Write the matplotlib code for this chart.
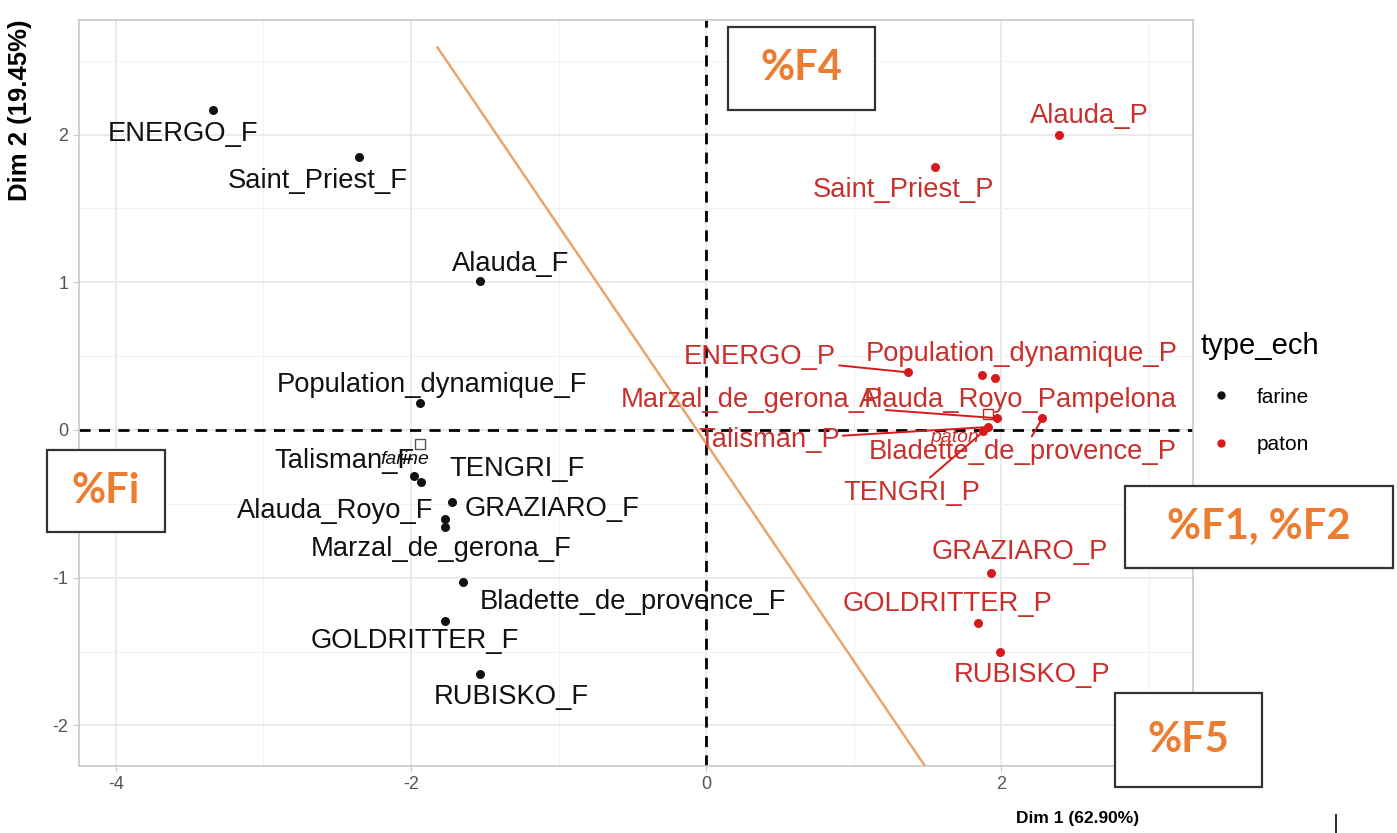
import numpy as np
import matplotlib.pyplot as plt
from matplotlib.lines import Line2D
from matplotlib.patches import Rectangle

plt.rcParams['font.family'] = ['Liberation Sans', 'DejaVu Sans']
plt.rcParams['axes.unicode_minus'] = False

W, H = 1397, 833

# individuals on the first two PCA dimensions
farine_names = ['ENERGO_F', 'Saint_Priest_F', 'Alauda_F', 'Population_dynamique_F',
                'Talisman_F', 'TENGRI_F', 'Alauda_Royo_F', 'GRAZIARO_F',
                'Marzal_de_gerona_F', 'Bladette_de_provence_F', 'GOLDRITTER_F', 'RUBISKO_F']
farine_x = [-3.34, -2.35, -1.53, -1.94, -1.98, -1.93, -1.77, -1.72, -1.77, -1.65, -1.77, -1.53]
farine_y = [2.17, 1.85, 1.01, 0.18, -0.31, -0.35, -0.60, -0.49, -0.66, -1.03, -1.29, -1.65]

paton_names = ['Alauda_P', 'Saint_Priest_P', 'ENERGO_P', 'Population_dynamique_P',
               'Alauda_Royo_Pampelona', 'Marzal_de_gerona_P', 'Bladette_de_provence_P',
               'Talisman_P', 'TENGRI_P', 'GRAZIARO_P', 'GOLDRITTER_P', 'RUBISKO_P']
paton_x = [2.39, 1.55, 1.37, 1.87, 1.96, 1.97, 2.28, 1.91, 1.88, 1.93, 1.84, 1.99]
paton_y = [2.00, 1.78, 0.39, 0.37, 0.35, 0.08, 0.08, 0.02, -0.01, -0.97, -1.31, -1.50]

# hand-drawn separating line
sep_x = [-1.82, 1.48]
sep_y = [2.59, -2.27]

# annotation boxes: text, (left, top, right, bottom) in pixels
boxes = [('%F4', (728, 27, 875, 110)),
         ('%Fi', (47, 450, 165, 532)),
         ('%F1, %F2', (1125, 486, 1393, 568)),
         ('%F5', (1115, 693, 1262, 787))]

# label offsets (pixels), repel-like placement
farine_off = [(-30, -24), (-42, -24), (30, 17), (12, 18), (-69, 15), (96, 13),
              (-110, 8), (100, -7), (-4, -22), (170, -20), (-30, -20), (31, -23)]
paton_off = [(31, 19), (-31, -23), (-148, 15), (40, 21), (23, -22), (-245, 18),
             (-20, -34), (-219, -13), (-72, -62), (29, 21), (-30, 19), (32, -23)]
paton_seg = [False, False, True, False, False, True, True, True, True, False, False, False]

BLACK = '#111111'
RED = '#d7191c'
RED_TXT = '#c9302c'
ORANGE = '#ec7c30'

fig = plt.figure(figsize=(W / 100, H / 100), dpi=100)
ax = fig.add_axes([79 / W, 1 - 766 / H, (1193 - 79) / W, (766 - 20) / H])

ax.set_xlim(-4.25, 3.30)
ax.set_ylim(-2.275, 2.776)
ax.set_xticks([-4, -2, 0, 2])
ax.set_xticks([-3, -1, 1, 3], minor=True)
ax.set_yticks([-2, -1, 0, 1, 2])
ax.set_yticks([-1.5, -0.5, 0.5, 1.5, 2.5], minor=True)
ax.grid(True, which='major', color='#e6e6e6', lw=1.1)
ax.grid(True, which='minor', color='#f1f1f1', lw=0.7)
ax.set_axisbelow(True)
for s in ax.spines.values():
    s.set_color('#c8c8c8')
    s.set_linewidth(1.2)
ax.tick_params(which='major', colors='#c8c8c8', labelcolor='#555555', labelsize=13, length=4)
ax.tick_params(which='minor', length=0)

ax.axhline(0, color='black', ls=(0, (4, 3)), lw=2)
ax.axvline(0, color='black', ls=(0, (4, 3)), lw=2)

ax.plot(sep_x, sep_y, color='#e8a56e', lw=1.8, zorder=3)

ax.scatter(farine_x, farine_y, s=30, color=BLACK, zorder=4)
ax.scatter(paton_x, paton_y, s=30, color=RED, zorder=4)

for n, x, y, o in zip(farine_names, farine_x, farine_y, farine_off):
    ax.annotate(n, (x, y), xytext=o, textcoords='offset pixels', ha='center', va='center',
                fontsize=19.7, color=BLACK, zorder=5)

for n, x, y, o, sg in zip(paton_names, paton_x, paton_y, paton_off, paton_seg):
    ap = dict(arrowstyle='-', color=RED, lw=1.4, shrinkA=0, shrinkB=2) if sg else None
    ax.annotate(n, (x, y), xytext=o, textcoords='offset pixels', ha='center', va='center',
                fontsize=19.7, color=RED_TXT, zorder=5, arrowprops=ap)

# group means
fm = (np.mean(farine_x), np.mean(farine_y))
pm = (np.mean(paton_x), np.mean(paton_y))
ax.plot(*fm, marker='s', ms=7, mfc='none', mec='#555555', mew=1, zorder=5)
ax.plot(*pm, marker='s', ms=7, mfc='none', mec=RED, mew=1, zorder=5)
ax.annotate('farine', fm, xytext=(-15, -15), textcoords='offset pixels', ha='center',
            va='center', fontsize=14, style='italic', color=BLACK, zorder=6)
ax.annotate('paton', pm, xytext=(-33, -23), textcoords='offset pixels', ha='center',
            va='center', fontsize=14, style='italic', color=RED_TXT, zorder=6)

fig.text(1078 / W, 1 - 818 / H, 'Dim 1 (62.90%)', ha='center', va='center',
         fontsize=12.5, fontweight='bold')
fig.text(20 / W, 1 - 110 / H, 'Dim 2 (19.45%)', ha='center', va='center', rotation=90,
         fontsize=18.5, fontweight='bold')

# legend
handles = [Line2D([], [], ls='none', marker='o', ms=5, color=BLACK),
           Line2D([], [], ls='none', marker='o', ms=5, color=RED)]
leg = fig.legend(handles, ['farine', 'paton'], title='type_ech', loc='upper left',
                 bbox_to_anchor=(1186 / W, 1 - 317 / H), frameon=False, fontsize=15,
                 title_fontsize=21, labelspacing=1.35, handletextpad=0.7,
                 borderaxespad=0.3, alignment='left')

# orange annotation boxes
for txt, (l, t, r, b) in boxes:
    fig.patches.append(Rectangle((l / W, 1 - b / H), (r - l) / W, (b - t) / H,
                                 transform=fig.transFigure, fc='white', ec='#333333',
                                 lw=1.6, zorder=10))
    fig.text((l + r) / 2 / W, 1 - (t + b) / 2 / H, txt, ha='center', va='center',
             fontsize=30, fontweight='bold', color=ORANGE, family='Lato', zorder=11)

fig.add_artist(Line2D([1336 / W, 1336 / W], [1 - 815 / H, 1 - 833 / H], color='#333333', lw=1.5))

fig.savefig('out.png', dpi=100)
